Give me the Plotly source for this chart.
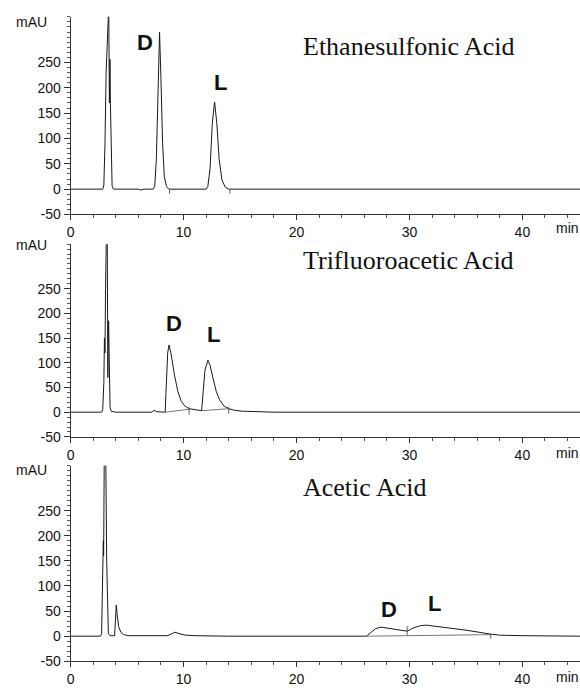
import plotly.graph_objects as go

# ---------------- data ----------------
# Panel 1: Ethanesulfonic Acid
t_esa = [0, 2.85, 2.95, 3.05, 3.15, 3.25, 3.32, 3.38, 3.44, 3.49, 3.53, 3.6, 3.68, 3.8,
         6.0, 6.2, 6.5, 7.3, 7.45, 7.6, 7.75, 7.88, 8.0, 8.15, 8.3, 8.5, 8.7,
         12.0, 12.15, 12.35, 12.55, 12.75, 12.95, 13.15, 13.4, 13.7, 14.0, 45.1]
a_esa = [0, 0, 8, 90, 230, 330, 360, 360, 170, 256, 170, 45, 6, 0,
         0, -2, 0, 0, 5, 60, 230, 310, 220, 90, 25, 5, 0,
         0, 5, 40, 130, 172, 130, 60, 18, 4, 0, 0]
tick_t_esa = [8.76, 14.1]
tick_lo_esa = [-9, -9]
tick_hi_esa = [-1, -1]

# Panel 2: Trifluoroacetic Acid
t_tfa = [0, 2.75, 2.85, 2.95, 3.0, 3.05, 3.1, 3.17, 3.25, 3.3, 3.37, 3.42, 3.5, 3.6, 4.0,
         7.2, 7.4, 7.6, 8.38, 8.45, 8.6, 8.72, 8.9, 9.2, 9.5, 9.8, 10.1, 10.5, 10.9, 11.3, 11.6,
         11.7, 11.9, 12.16, 12.35, 12.6, 12.9, 13.2, 13.6, 14.0, 14.5, 15.2, 16.0, 18.0, 45.1]
a_tfa = [0, 0, 5, 60, 150, 120, 250, 360, 360, 70, 185, 60, 10, 2, 0,
         0, 4, 1, 0, 40, 120, 136, 118, 75, 42, 22, 13, 7, 5, 4, 3,
         30, 85, 105, 95, 70, 42, 25, 12, 7, 4, 2, 1, 0, 0]
base_t_tfa = [8.38, 10.5, None, 11.6, 14.0]
base_a_tfa = [0, 6, None, 3, 7]
tick_t_tfa = [10.5, 14.0]
tick_lo_tfa = [-5, -3]
tick_hi_tfa = [10, 11]

# Panel 3: Acetic Acid
t_ac = [0, 2.65, 2.75, 2.85, 2.88, 2.9, 2.93, 2.98, 3.05, 3.12, 3.2, 3.28, 3.35, 3.5,
        3.9, 3.97, 4.05, 4.12, 4.25, 4.45, 4.7, 5.2, 8.6, 9.0, 9.25, 9.6, 10.2, 11.0, 14.0,
        26.2, 26.6, 27.0, 27.5, 28.5, 29.8, 30.3, 31.0, 31.5, 33.0, 35.0, 37.2, 38.0, 40.0, 45.1]
a_ac = [0, 0, 5, 100, 150, 190, 160, 340, 360, 360, 150, 30, 5, 1,
        1, 30, 62, 45, 20, 8, 3, 1, 1, 5, 8, 5, 2, 1, 0,
        0, 8, 15, 18, 15, 10, 16, 21, 22, 18, 12, 4, 2, 1, 0]
base_t_ac = [26.2, 37.2]
base_a_ac = [0, 3]
tick_t_ac = [29.8, 37.2]
tick_lo_ac = [2, -5]
tick_hi_ac = [20, 4.5]

titles = ["Ethanesulfonic Acid", "Trifluoroacetic Acid", "Acetic Acid"]
title_y = [281, 306, 296]
peak_labels = ["D", "L"]
label_pos = [[(6.6, 289), (13.3, 211)],
             [(9.2, 180), (12.66, 158)],
             [(28.2, 53), (32.2, 65)]]

x_ticks = [0, 10, 20, 30, 40]
y_ticks = [-50, 0, 50, 100, 150, 200, 250]

# ---------------- figure ----------------
fig = go.Figure()
LINE = "#1a1a1a"
SANS = "Liberation Sans, Arial, sans-serif"
SERIF = "Liberation Serif, Times New Roman, serif"


def seg(ts, lo, hi):
    xs, ys = [], []
    for t, l, h in zip(ts, lo, hi):
        xs += [t, t, None]
        ys += [l, h, None]
    return xs, ys


panels = [
    (t_esa, a_esa, None, None, tick_t_esa, tick_lo_esa, tick_hi_esa),
    (t_tfa, a_tfa, base_t_tfa, base_a_tfa, tick_t_tfa, tick_lo_tfa, tick_hi_tfa),
    (t_ac, a_ac, base_t_ac, base_a_ac, tick_t_ac, tick_lo_ac, tick_hi_ac),
]

H = 692.0
W = 580.0
y_domains_px = [(17, 217), (247, 442), (471, 669)]

for i, (tt, aa, bt, ba, kt, klo, khi) in enumerate(panels):
    n = "" if i == 0 else str(i + 1)
    xa, ya = "x" + n, "y" + n
    fig.add_trace(go.Scatter(x=tt, y=aa, mode="lines", line=dict(color=LINE, width=1),
                             xaxis=xa, yaxis=ya, showlegend=False, hoverinfo="skip"))
    if bt is not None:
        fig.add_trace(go.Scatter(x=bt, y=ba, mode="lines", line=dict(color="#555", width=0.8),
                                 xaxis=xa, yaxis=ya, showlegend=False, hoverinfo="skip"))
    sx, sy = seg(kt, klo, khi)
    fig.add_trace(go.Scatter(x=sx, y=sy, mode="lines", line=dict(color="#333", width=0.8),
                             xaxis=xa, yaxis=ya, showlegend=False, hoverinfo="skip"))

    top, bot = y_domains_px[i]
    fig.update_layout({
        "xaxis" + n: dict(
            domain=[67 / W, 1.0], range=[0, 45.1], anchor=ya,
            showline=True, linecolor="#333", linewidth=1, mirror=False,
            ticks="outside", ticklen=5, tickcolor="#333", tickwidth=1,
            tickmode="array", tickvals=x_ticks, ticktext=[str(v) for v in x_ticks],
            minor=dict(ticks="outside", ticklen=3, dtick=2, tick0=0, tickcolor="#555", showgrid=False),
            showgrid=False, zeroline=False,
            tickfont=dict(family=SANS, size=14, color="#111"),
        ),
        "yaxis" + n: dict(
            domain=[1 - bot / H, 1 - top / H], range=[-50, 340], anchor=xa,
            showline=True, linecolor="#333", linewidth=1,
            ticks="outside", ticklen=6, tickcolor="#333", tickwidth=1,
            tickmode="array", tickvals=y_ticks, ticktext=[str(v) for v in y_ticks],
            minor=dict(ticks="outside", ticklen=3, dtick=10, tick0=0, tickcolor="#555", showgrid=False),
            showgrid=False, zeroline=False,
            tickfont=dict(family=SANS, size=14, color="#111"),
        ),
    })

    # title
    fig.add_annotation(x=20.4, y=title_y[i], xref=xa, yref=ya, text=titles[i],
                       showarrow=False, xanchor="left", yanchor="middle",
                       font=dict(family=SERIF, size=26, color="#111"))
    # D / L labels
    for lab, (px, py) in zip(peak_labels, label_pos[i]):
        fig.add_annotation(x=px, y=py, xref=xa, yref=ya, text="<b>%s</b>" % lab,
                           showarrow=False, xanchor="center", yanchor="middle",
                           font=dict(family=SANS, size=22, color="#111"))
    # mAU and min
    mau_px = [22, 248, 475][i]
    min_px = [231, 458, 685][i]
    fig.add_annotation(x=28 / W, y=1 - mau_px / H, xref="paper", yref="paper", text="mAU",
                       showarrow=False, xanchor="center", yanchor="middle",
                       font=dict(family=SANS, size=14, color="#111"))
    fig.add_annotation(x=567 / W, y=1 - min_px / H, xref="paper", yref="paper", text="min",
                       showarrow=False, xanchor="center", yanchor="middle",
                       font=dict(family=SANS, size=14, color="#111"))

fig.update_layout(width=580, height=692, margin=dict(l=0, r=0, t=0, b=0),
                  paper_bgcolor="white", plot_bgcolor="white", showlegend=False)

fig.write_html("out.html", config={"displayModeBar": False},
               post_script="document.body.style.margin='0';document.body.style.overflow='hidden';")
